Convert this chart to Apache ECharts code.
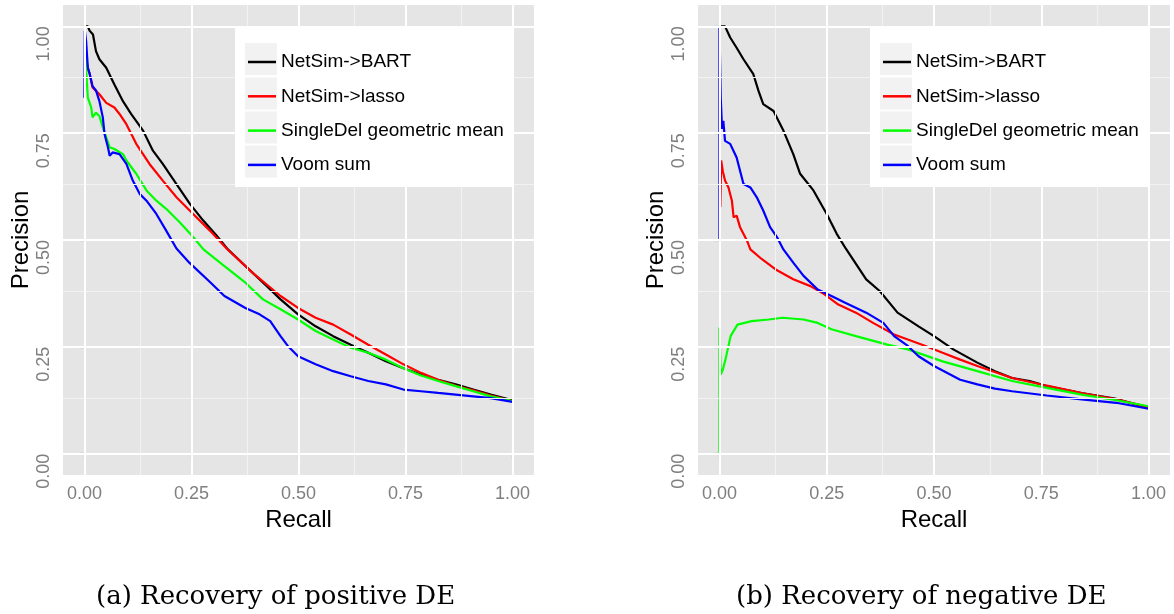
<!DOCTYPE html>
<html>
<head>
<meta charset="utf-8">
<script src="https://cdn.jsdelivr.net/npm/echarts@6/dist/echarts.min.js"></script>
<style>
  html, body { margin: 0; padding: 0; background: #fff; }
  #main { width: 1174px; height: 614px; }
</style>
</head>
<body>
<div id="main"></div>
<script>
// series names, ticks, captions
const seriesNames = ['NetSim->BART', 'NetSim->lasso', 'SingleDel geometric mean', 'Voom sum'];
const seriesColors = ['#000000', '#ff0000', '#00ff00', '#0000ff'];
const majorTicks = [0, 0.25, 0.5, 0.75, 1];
const minorTicks = [0.125, 0.375, 0.625, 0.875];
const captions = ['(a) Recovery of positive DE', '(b) Recovery of negative DE'];

// (a) positive DE: [recall, precision]
const posBart = [[0.002,1.0],[0.008,1.0],[0.012,0.99],[0.02,0.981],[0.027,0.942],[0.035,0.923],[0.051,0.903],[0.07,0.864],[0.09,0.825],[0.109,0.795],[0.137,0.756],[0.16,0.709],[0.183,0.678],[0.215,0.631],[0.246,0.585],[0.277,0.546],[0.308,0.511],[0.335,0.478],[0.376,0.439],[0.426,0.392],[0.458,0.361],[0.499,0.326],[0.54,0.298],[0.581,0.275],[0.622,0.255],[0.663,0.236],[0.704,0.216],[0.745,0.2],[0.786,0.185],[0.826,0.173],[0.867,0.162],[0.908,0.15],[0.949,0.138],[1.0,0.125]];
const posLasso = [[0.002,0.95],[0.005,0.92],[0.008,0.903],[0.012,0.89],[0.019,0.857],[0.035,0.841],[0.051,0.821],[0.07,0.81],[0.082,0.795],[0.098,0.771],[0.121,0.725],[0.152,0.678],[0.183,0.639],[0.215,0.6],[0.254,0.561],[0.293,0.522],[0.332,0.48],[0.393,0.423],[0.458,0.369],[0.499,0.341],[0.54,0.318],[0.581,0.302],[0.622,0.279],[0.663,0.255],[0.704,0.232],[0.745,0.209],[0.786,0.189],[0.826,0.173],[0.867,0.159],[0.908,0.148],[0.949,0.136],[1.0,0.123]];
const posSingle = [[0.002,0.95],[0.004,0.9],[0.008,0.833],[0.016,0.81],[0.019,0.787],[0.027,0.798],[0.035,0.79],[0.043,0.764],[0.059,0.717],[0.07,0.713],[0.09,0.701],[0.098,0.686],[0.121,0.655],[0.145,0.616],[0.168,0.592],[0.191,0.573],[0.222,0.542],[0.254,0.507],[0.278,0.478],[0.327,0.439],[0.376,0.4],[0.417,0.361],[0.458,0.338],[0.499,0.314],[0.54,0.287],[0.581,0.267],[0.622,0.248],[0.663,0.236],[0.704,0.22],[0.745,0.2],[0.786,0.183],[0.826,0.17],[0.867,0.158],[0.908,0.146],[0.949,0.134],[1.0,0.123]];
const posVoom = [[0,0.833],[0.001,0.99],[0.004,0.965],[0.008,0.903],[0.012,0.89],[0.019,0.86],[0.027,0.85],[0.035,0.825],[0.043,0.787],[0.047,0.748],[0.055,0.717],[0.059,0.697],[0.066,0.705],[0.082,0.701],[0.098,0.678],[0.113,0.639],[0.129,0.608],[0.145,0.592],[0.168,0.561],[0.191,0.522],[0.215,0.48],[0.245,0.447],[0.295,0.4],[0.327,0.369],[0.376,0.341],[0.409,0.326],[0.434,0.31],[0.458,0.275],[0.475,0.252],[0.499,0.228],[0.54,0.209],[0.581,0.193],[0.622,0.181],[0.663,0.17],[0.704,0.162],[0.745,0.15],[0.786,0.146],[0.826,0.142],[0.867,0.138],[0.908,0.134],[0.949,0.13],[1.0,0.121]];

// (b) negative DE
const negBart = [[0.002,1.0],[0.013,1.0],[0.025,0.974],[0.04,0.95],[0.056,0.923],[0.079,0.888],[0.091,0.849],[0.102,0.818],[0.126,0.802],[0.149,0.756],[0.172,0.701],[0.188,0.655],[0.219,0.616],[0.25,0.561],[0.273,0.515],[0.295,0.479],[0.342,0.408],[0.374,0.38],[0.415,0.33],[0.464,0.298],[0.5,0.275],[0.545,0.244],[0.601,0.213],[0.642,0.193],[0.682,0.177],[0.723,0.17],[0.763,0.158],[0.844,0.142],[0.925,0.128],[1.0,0.107]];
const negLasso = [[0.002,0.577],[0.004,0.686],[0.008,0.66],[0.013,0.639],[0.021,0.623],[0.029,0.592],[0.033,0.553],[0.04,0.557],[0.048,0.53],[0.064,0.499],[0.072,0.478],[0.099,0.455],[0.131,0.431],[0.172,0.408],[0.212,0.392],[0.245,0.373],[0.277,0.349],[0.318,0.33],[0.358,0.306],[0.407,0.279],[0.439,0.267],[0.48,0.252],[0.52,0.236],[0.561,0.22],[0.601,0.205],[0.682,0.177],[0.763,0.159],[0.844,0.142],[0.925,0.127],[1.0,0.109]];
const negSingle = [[0,0],[0,0.295],[0.003,0.185],[0.008,0.197],[0.014,0.22],[0.026,0.275],[0.042,0.302],[0.075,0.31],[0.115,0.314],[0.147,0.318],[0.196,0.314],[0.229,0.306],[0.261,0.291],[0.318,0.275],[0.391,0.255],[0.439,0.244],[0.52,0.216],[0.601,0.193],[0.682,0.17],[0.763,0.154],[0.844,0.138],[0.925,0.125],[1.0,0.111]];
const negVoom = [[0,0.5],[0,1.0],[0.003,0.833],[0.006,0.76],[0.009,0.779],[0.013,0.732],[0.025,0.725],[0.04,0.693],[0.056,0.631],[0.072,0.623],[0.087,0.6],[0.102,0.569],[0.118,0.53],[0.134,0.507],[0.149,0.478],[0.172,0.447],[0.196,0.416],[0.229,0.384],[0.261,0.369],[0.293,0.353],[0.342,0.33],[0.382,0.306],[0.407,0.275],[0.439,0.252],[0.464,0.228],[0.5,0.205],[0.561,0.173],[0.601,0.162],[0.642,0.152],[0.682,0.146],[0.763,0.136],[0.844,0.127],[0.925,0.119],[1.0,0.105]];

const panels = [
  [posBart, posLasso, posSingle, posVoom],
  [negBart, negLasso, negSingle, negVoom]
];

const grey = '#7f7f7f';
const sans = 'Liberation Sans';

function makeAxis(kind, i) {
  const isX = kind === 'x';
  const label = {
    customValues: majorTicks,
    rotate: isX ? 0 : 90,
    margin: isX ? 10 : 10,
    fontFamily: sans,
    fontSize: 18,
    color: grey,
    formatter: v => v.toFixed(2)
  };
  if (!isX) {
    // rotated labels hang below their tick, like ggplot's hjust = 1
    label.align = 'right';
    label.verticalAlign = 'bottom';
  }
  return {
    type: 'value',
    gridIndex: i,
    min: -0.05,
    max: 1.05,
    name: isX ? 'Recall' : 'Precision',
    nameLocation: 'middle',
    nameGap: isX ? 32 : 30,
    nameTextStyle: { fontFamily: sans, fontSize: 24, color: '#000' },
    axisLine: { show: false },
    splitLine: { show: false },
    axisTick: { show: true, length: 5, customValues: majorTicks, lineStyle: { color: grey, width: 1.2 } },
    axisLabel: label
  };
}

const xAxes = [makeAxis('x', 0), makeAxis('x', 1)];
const yAxes = [makeAxis('y', 0), makeAxis('y', 1)];

const series = [];
[0, 1].forEach(i => {
  // panel grid lines
  series.push({
    type: 'line', xAxisIndex: i, yAxisIndex: i, data: [], silent: true, z: 1,
    markLine: {
      silent: true, symbol: 'none', animation: false, label: { show: false },
      lineStyle: { color: '#f2f2f2', width: 1, type: 'solid' },
      data: minorTicks.map(v => ({ xAxis: v })).concat(minorTicks.map(v => ({ yAxis: v })))
    }
  });
  series.push({
    type: 'line', xAxisIndex: i, yAxisIndex: i, data: [], silent: true, z: 1,
    markLine: {
      silent: true, symbol: 'none', animation: false, label: { show: false },
      lineStyle: { color: '#ffffff', width: 2, type: 'solid' },
      data: majorTicks.map(v => ({ xAxis: v })).concat(majorTicks.map(v => ({ yAxis: v })))
    }
  });
  panels[i].forEach((d, k) => {
    series.push({
      name: seriesNames[k],
      type: 'line',
      xAxisIndex: i, yAxisIndex: i,
      data: d,
      showSymbol: false,
      color: seriesColors[k],
      lineStyle: { width: 2.2, color: seriesColors[k] },
      z: 2
    });
  });
});

function legendAt(left) {
  return {
    data: seriesNames,
    orient: 'vertical',
    left: left,
    top: 52,
    padding: 0,
    z: 20,
    icon: 'rect',
    itemWidth: 28,
    itemHeight: 2.5,
    itemGap: 14.3,
    selectedMode: false,
    textStyle: { fontFamily: sans, fontSize: 19, color: '#000', lineHeight: 20 }
  };
}

function legendBox(x) {
  const els = [{ type: 'rect', shape: { x: x, y: 27, width: 278, height: 160 }, style: { fill: '#fff' }, z: 10 }];
  [43, 77.5, 111.5, 145.5].forEach(y => {
    els.push({ type: 'rect', shape: { x: x + 10, y: y, width: 32, height: 32 }, style: { fill: '#f2f2f2' }, z: 11 });
  });
  return els;
}

const option = {
  animation: false,
  backgroundColor: '#fff',
  grid: [
    { left: 63, top: 5, width: 471, height: 470, show: true, borderWidth: 0, backgroundColor: '#e5e5e5' },
    { left: 698, top: 5, width: 472, height: 470, show: true, borderWidth: 0, backgroundColor: '#e5e5e5' }
  ],
  xAxis: xAxes,
  yAxis: yAxes,
  legend: [legendAt(248), legendAt(883)],
  title: [
    { text: captions[0], left: 96, top: 584, padding: 0, textStyle: { fontFamily: 'DejaVu Serif', fontSize: 26, fontWeight: 'normal', color: '#000' } },
    { text: captions[1], left: 736, top: 584, padding: 0, textStyle: { fontFamily: 'DejaVu Serif', fontSize: 26, fontWeight: 'normal', color: '#000' } }
  ],
  graphic: { elements: legendBox(235).concat(legendBox(870)) },
  series: series
};

const chart = echarts.init(document.getElementById('main'));
chart.setOption(option);
</script>
</body>
</html>
